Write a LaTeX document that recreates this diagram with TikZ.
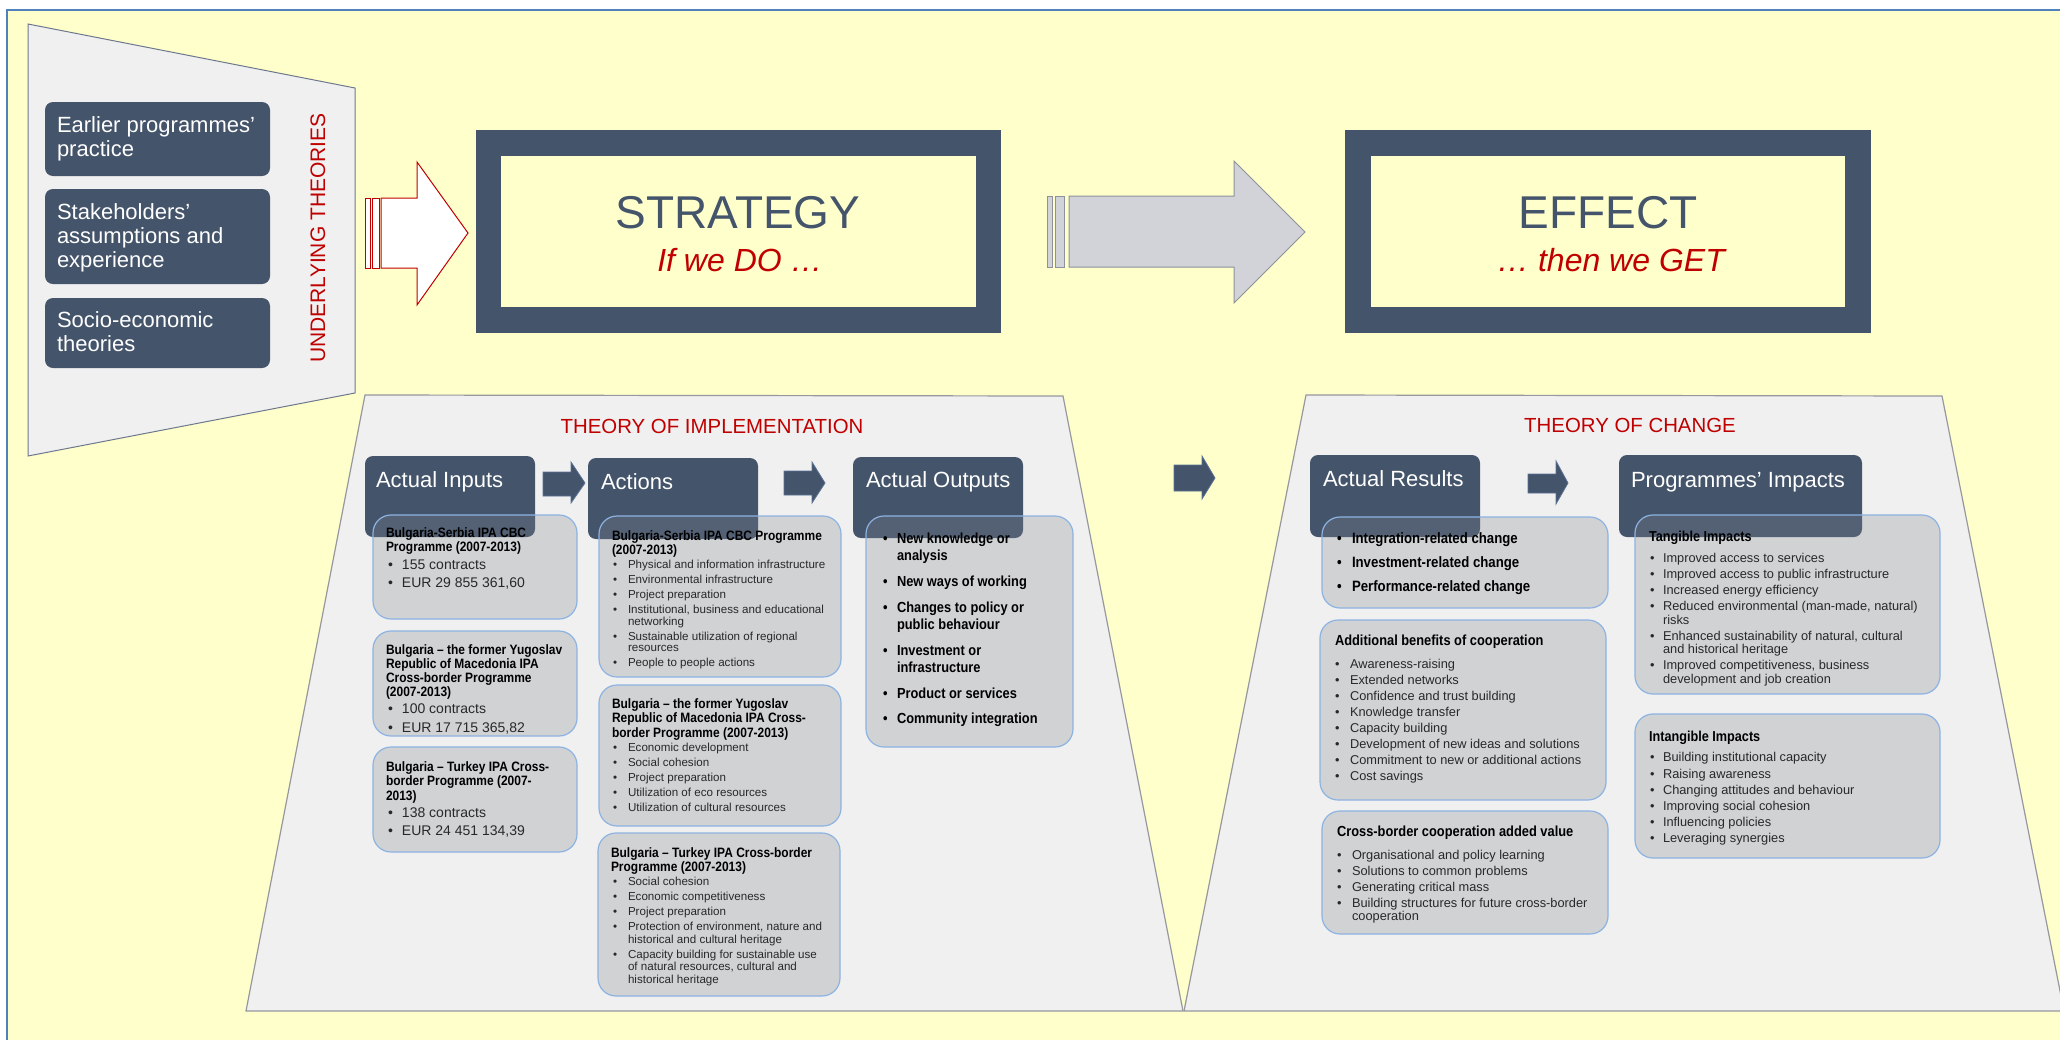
\documentclass[tikz,border=0pt]{standalone}
\usepackage{fontspec}
\setmainfont{Liberation Sans}
\newfontfamily\nar[FakeStretch=0.88]{Liberation Sans}
\usetikzlibrary{fit}
\definecolor{bgy}{RGB}{255,255,204}
\definecolor{slate}{RGB}{68,84,106}
\definecolor{trapf}{RGB}{240,240,240}
\definecolor{trapd}{RGB}{150,152,158}
\definecolor{trapl}{RGB}{110,120,140}
\definecolor{redt}{RGB}{192,0,0}
\definecolor{bblue}{RGB}{141,179,226}
\definecolor{cfill}{RGB}{128,133,142}
\definecolor{outerb}{RGB}{79,129,189}
\definecolor{arrg}{RGB}{210,211,216}
\definecolor{arrgd}{RGB}{140,145,155}
\definecolor{txtc}{RGB}{40,40,40}
\newlength{\bw}
\newcommand\fs[2]{\fontsize{#1}{#2}\selectfont}
\newcommand\st[1]{\rule{0pt}{#1}}
\newcommand\bu{\makebox[\bw][l]{\textbullet}}
\newcommand\ct{\hspace*{\bw}}
\newcommand\rbox[6]{\path (#3,#4) coordinate (#1-nw) (#5,#6) coordinate (#1-se);
  \node[#2, fit=(#1-nw)(#1-se)] (#1) {};}
\tikzset{
  px/.style={inner sep=0pt, outer sep=0pt},
  lbox/.style={px, fill=slate, rounded corners=4pt},
  frame/.style={px, fill=slate},
  innerf/.style={px, fill=bgy},
  hdr/.style={px, fill=slate, rounded corners=4pt},
  cbox/.style={px, fill=cfill, fill opacity=0.28, draw=bblue, line width=0.6pt, rounded corners=9pt},
  blk/.style={fill=slate, draw={rgb,255:red,90;green,115;blue,150}, line width=0.4pt},
  lst/.style 2 args={px, anchor=north west, align=left, text=txtc, font={\setlength{\bw}{#1}#2}},
  ttl/.style={px, anchor=north west, align=left, text=black},
  htxt/.style={px, anchor=base west, text=white, font=\fs{11pt}{11pt}},
  trap/.style={fill=trapf, draw=trapd, line width=0.6pt},
}
\begin{document}
\begin{tikzpicture}[x=0.5pt,y=-0.5pt]
\useasboundingbox (0,0) rectangle (2060,1039);
\clip (0,0) rectangle (2060,1039);
\fill[white] (0,0) rectangle (2060,1039);
\draw[fill=bgy, draw=outerb, line width=0.8pt] (7,10) rectangle (2090,1070);

% ---------- underlying theories panel
\draw[fill=trapf, draw=trapl, line width=0.5pt] (28,24) -- (355,88) -- (355,393) -- (28,456) -- cycle;
\rbox{ut1}{lbox}{45}{102}{270}{176}
\rbox{ut2}{lbox}{45}{189}{270}{284}
\rbox{ut3}{lbox}{45}{298}{270}{368}
\node[px, anchor=north west, align=left, text=white, font=\fs{11pt}{12pt}] (ut1-t) at (57,110) {\st{11pt}Earlier programmes’\\practice};
\node[px, anchor=north west, align=left, text=white, font=\fs{11pt}{12.1pt}] (ut2-t) at (57,197) {\st{11pt}Stakeholders’\\assumptions and\\experience};
\node[px, anchor=north west, align=left, text=white, font=\fs{11pt}{12pt}] (ut3-t) at (57,305) {\st{11pt}Socio-economic\\theories};
\node[px, rotate=90, text=redt, font=\fs{10.5pt}{10.5pt}] (utlabel) at (318,238) {UNDERLYING THEORIES};

% red outlined arrow
\draw[fill=white, draw=redt, line width=0.5pt] (365,198) rectangle (370,268);
\draw[fill=white, draw=redt, line width=0.5pt] (372,198) rectangle (379,268);
\draw[fill=white, draw=redt, line width=0.5pt] (381,198) -- (417,198) -- (417,162) -- (468,233) -- (417,305) -- (417,268) -- (381,268) -- cycle;

% ---------- strategy
\rbox{strat}{frame}{476}{130}{1001}{333}
\rbox{stratin}{innerf}{501}{156}{976}{307}
\node[px, anchor=base, text=slate, font=\fs{23pt}{23pt}] (strat-t) at (738,228) {STRATEGY};
\node[px, anchor=base, text=redt, font={\fs{16pt}{16pt}\itshape}] (strat-s) at (740,271) {If we DO …};

% grey arrow
\draw[fill=arrg, draw=arrgd, line width=0.5pt] (1047,196) rectangle (1052,267);
\draw[fill=arrg, draw=arrgd, line width=0.5pt] (1055,196) rectangle (1064,267);
\draw[fill=arrg, draw=arrgd, line width=0.5pt] (1069,196) -- (1234,196) -- (1234,161) -- (1305,232) -- (1234,303) -- (1234,267) -- (1069,267) -- cycle;

% ---------- effect
\rbox{eff}{frame}{1345}{130}{1871}{333}
\rbox{effin}{innerf}{1371}{156}{1845}{307}
\node[px, anchor=base, text=slate, font=\fs{23pt}{23pt}] (eff-t) at (1608,228) {EFFECT};
\node[px, anchor=base, text=redt, font={\fs{16pt}{16pt}\itshape}] (eff-s) at (1611,271) {… then we GET};

% ---------- lower panels
\draw[trap] (365,395) -- (1063,396) -- (1183,1011) -- (246,1011) -- cycle;
\draw[trap] (1306,395) -- (1942,396) -- (2064,1011) -- (1184,1011) -- cycle;
\node[px, anchor=base, text=redt, font=\fs{10.2pt}{10.2pt}] (toi) at (712,433) {THEORY OF IMPLEMENTATION};
\node[px, anchor=base, text=redt, font=\fs{10.2pt}{10.2pt}] (toc) at (1630,432) {THEORY OF CHANGE};

% small block arrows
\fill[blk] (543,472) -- (571,472) -- (571,462) -- (585,483) -- (571,503) -- (571,496) -- (543,496) -- cycle;
\fill[blk] (784,471) -- (812,471) -- (812,462) -- (825,483) -- (812,503) -- (812,495) -- (784,495) -- cycle;
\fill[blk] (1174,465) -- (1202,465) -- (1202,456) -- (1215,478) -- (1202,499) -- (1202,491) -- (1174,491) -- cycle;
\fill[blk] (1528,474) -- (1556,474) -- (1556,461) -- (1568,483) -- (1556,504) -- (1556,493) -- (1528,493) -- cycle;

% headers
\rbox{hin}{hdr}{365}{456}{535}{537}
\rbox{hac}{hdr}{588}{458}{758}{539}
\rbox{hout}{hdr}{853}{457}{1023}{538}
\rbox{hres}{hdr}{1310}{455}{1480}{537}
\rbox{himp}{hdr}{1619}{455}{1862}{537}
\node[htxt] (hin-t) at (376,487) {Actual Inputs};
\node[htxt] (hac-t) at (601,489) {Actions};
\node[htxt] (hout-t) at (866,487) {Actual Outputs};
\node[htxt] (hres-t) at (1323,486) {Actual Results};
\node[htxt] (himp-t) at (1631,487) {Programmes’ Impacts};

% ---------- inputs
\rbox{in1}{cbox}{373}{515}{577}{619}
\rbox{in2}{cbox}{373}{631}{577}{736}
\rbox{in3}{cbox}{373}{747}{577}{852}
\node[ttl, font={\nar\bfseries\fs{6.8pt}{7pt}}] (in1-h) at (386,523) {\st{7pt}Bulgaria-Serbia IPA CBC\\Programme (2007-2013)};
\node[lst={7pt}{\fs{7pt}{9pt}}] (in1-l) at (388,555) {\st{7pt}\bu 155 contracts\\\bu EUR 29 855 361,60};
\node[ttl, font={\nar\bfseries\fs{6.8pt}{7.15pt}}] (in2-h) at (386,640) {\st{7pt}Bulgaria – the former Yugoslav\\Republic of Macedonia IPA\\Cross-border Programme\\(2007-2013)};
\node[lst={7pt}{\fs{7pt}{9.5pt}}] (in2-l) at (388,699) {\st{7pt}\bu 100 contracts\\\bu EUR 17 715 365,82};
\node[ttl, font={\nar\bfseries\fs{6.8pt}{7.25pt}}] (in3-h) at (386,757) {\st{7pt}Bulgaria – Turkey IPA Cross-\\border Programme (2007-\\2013)};
\node[lst={7pt}{\fs{7pt}{9pt}}] (in3-l) at (388,803) {\st{7pt}\bu 138 contracts\\\bu EUR 24 451 134,39};

% ---------- actions
\rbox{ac1}{cbox}{599}{516}{841}{677}
\rbox{ac2}{cbox}{599}{685}{841}{826}
\rbox{ac3}{cbox}{598}{833}{840}{996}
\node[ttl, font={\nar\bfseries\fs{6.8pt}{7pt}}] (ac1-h) at (612,526) {\st{7pt}Bulgaria-Serbia IPA CBC Programme\\(2007-2013)};
\node[lst={7.5pt}{\fs{5.8pt}{5.75pt}}] (ac1-l) at (613,557) {\st{5.8pt}\bu Physical and information infrastructure\\[1.75pt]
\bu Environmental infrastructure\\[1.75pt]
\bu Project preparation\\[1.75pt]
\bu Institutional, business and educational\\
\ct networking\\[1.75pt]
\bu Sustainable utilization of regional\\
\ct resources\\[1.75pt]
\bu People to people actions};
\node[ttl, font={\nar\bfseries\fs{6.8pt}{7.25pt}}] (ac2-h) at (612,694) {\st{7pt}Bulgaria – the former Yugoslav\\Republic of Macedonia IPA Cross-\\border Programme (2007-2013)};
\node[lst={7.5pt}{\fs{5.8pt}{7.5pt}}] (ac2-l) at (613,740) {\st{5.8pt}\bu Economic development\\
\bu Social cohesion\\
\bu Project preparation\\
\bu Utilization of eco resources\\
\bu Utilization of cultural resources};
\node[ttl, font={\nar\bfseries\fs{6.8pt}{7pt}}] (ac3-h) at (611,843) {\st{7pt}Bulgaria – Turkey IPA Cross-border\\Programme (2007-2013)};
\node[lst={7.5pt}{\fs{5.8pt}{6.25pt}}] (ac3-l) at (613,874) {\st{5.8pt}\bu Social cohesion\\[1.25pt]
\bu Economic competitiveness\\[1.25pt]
\bu Project preparation\\[1.25pt]
\bu Protection of environment, nature and\\
\ct historical and cultural heritage\\[1.25pt]
\bu Capacity building for sustainable use\\
\ct of natural resources, cultural and\\
\ct historical heritage};

% ---------- outputs
\rbox{out}{cbox}{866}{516}{1073}{747}
\node[lst={7pt}{\nar\bfseries\fs{7.3pt}{8.5pt}}, text=black] (out-l) at (883,529) {\st{7.3pt}\bu New knowledge or\\
\ct analysis\\[4.5pt]
\bu New ways of working\\[4.5pt]
\bu Changes to policy or\\
\ct public behaviour\\[4.5pt]
\bu Investment or\\
\ct infrastructure\\[4.5pt]
\bu Product or services\\[4pt]
\bu Community integration};

% ---------- results
\rbox{rs1}{cbox}{1322}{517}{1608}{608}
\rbox{rs2}{cbox}{1320}{620}{1606}{800}
\rbox{rs3}{cbox}{1322}{811}{1608}{934}
\node[lst={7.5pt}{\nar\bfseries\fs{7.5pt}{12pt}}, text=black] (rs1-l) at (1337,528) {\st{7.5pt}\bu Integration-related change\\
\bu Investment-related change\\
\bu Performance-related change};
\node[ttl, font={\nar\bfseries\fs{7.3pt}{7.3pt}}] (rs2-h) at (1335,631) {\st{7.3pt}Additional benefits of cooperation};
\node[lst={7.5pt}{\fs{6.4pt}{8pt}}] (rs2-l) at (1335,656) {\st{6.4pt}\bu Awareness-raising\\
\bu Extended networks\\
\bu Confidence and trust building\\
\bu Knowledge transfer\\
\bu Capacity building\\
\bu Development of new ideas and solutions\\
\bu Commitment to new or additional actions\\
\bu Cost savings};
\node[ttl, font={\nar\bfseries\fs{7.3pt}{7.3pt}}] (rs3-h) at (1337,822) {\st{7.3pt}Cross-border cooperation added value};
\node[lst={7.5pt}{\fs{6.4pt}{6.5pt}}] (rs3-l) at (1337,847) {\st{6.4pt}\bu Organisational and policy learning\\[1.5pt]
\bu Solutions to common problems\\[1.5pt]
\bu Generating critical mass\\[1.5pt]
\bu Building structures for future cross-border\\
\ct cooperation};

% ---------- impacts
\rbox{tg}{cbox}{1635}{515}{1940}{694}
\rbox{it}{cbox}{1635}{714}{1940}{858}
\node[ttl, font={\nar\bfseries\fs{7.2pt}{7.2pt}}] (tg-h) at (1649,527) {\st{7.2pt}Tangible Impacts};
\node[lst={6.5pt}{\fs{6.4pt}{6.75pt}}] (tg-l) at (1650,550) {\st{6.4pt}\bu Improved access to services\\[1.25pt]
\bu Improved access to public infrastructure\\[1.25pt]
\bu Increased energy efficiency\\[1.25pt]
\bu Reduced environmental (man-made, natural)\\
\ct risks\\[1.25pt]
\bu Enhanced sustainability of natural, cultural\\
\ct and historical heritage\\[1.25pt]
\bu Improved competitiveness, business\\
\ct development and job creation};
\node[ttl, font={\nar\bfseries\fs{7.2pt}{7.2pt}}] (it-h) at (1649,727) {\st{7.2pt}Intangible Impacts};
\node[lst={6.5pt}{\fs{6.4pt}{8.1pt}}] (it-l) at (1650,749) {\st{6.4pt}\bu Building institutional capacity\\
\bu Raising awareness\\
\bu Changing attitudes and behaviour\\
\bu Improving social cohesion\\
\bu Influencing policies\\
\bu Leveraging synergies};
\end{tikzpicture}
\end{document}
